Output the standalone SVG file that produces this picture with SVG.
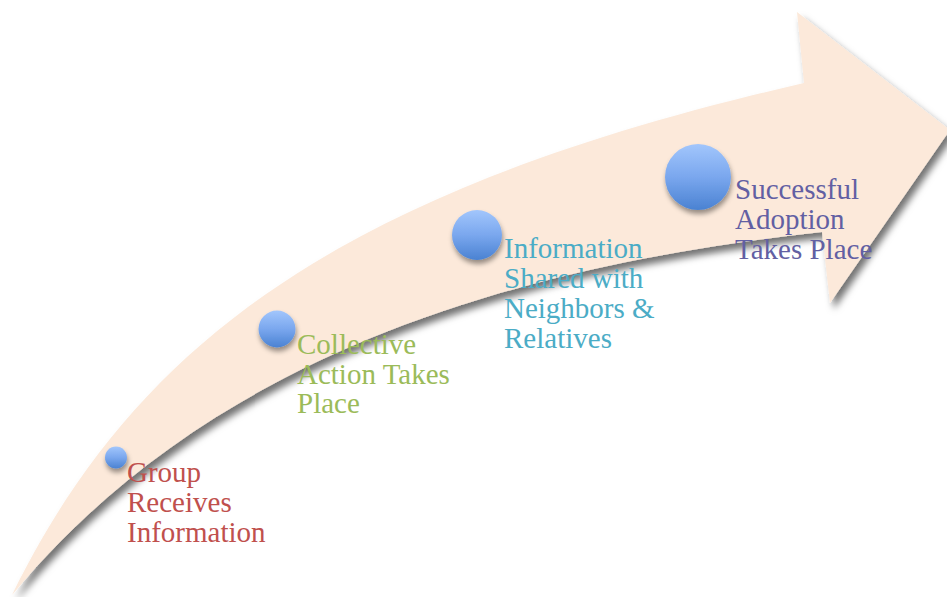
<svg xmlns="http://www.w3.org/2000/svg" width="947" height="597" viewBox="0 0 947 597">
<defs>
<filter id="shadow" x="-10%" y="-10%" width="130%" height="130%">
<feDropShadow dx="4" dy="6" stdDeviation="3.5" flood-color="#000" flood-opacity="0.55"/>
</filter>
<filter id="cshadow" x="-50%" y="-50%" width="200%" height="200%">
<feDropShadow dx="1" dy="4" stdDeviation="2.5" flood-color="#000" flood-opacity="0.4"/>
</filter>
<linearGradient id="ball" x1="0" y1="0" x2="0" y2="1">
<stop offset="0" stop-color="#a2c6fc"/>
<stop offset="0.5" stop-color="#7aa7ee"/>
<stop offset="1" stop-color="#4a82d2"/>
</linearGradient>
<style>
.lbl{font-family:"Liberation Serif","Times New Roman",serif;font-size:29px}
.ball{fill:url(#ball);filter:url(#cshadow)}
</style>
</defs>
<rect width="947" height="597" fill="#ffffff"/>
<g id="arrow">
<path d="M12,595 C143,327 365,184 804,83 L797,12 L950,130 L830,303 L822,232 C441.9,273.5 182.7,389.6 12,595 Z" fill="#fce9da" filter="url(#shadow)"/>
</g>
<g id="connectors"></g>
<g id="node1">
<circle class="ball" cx="116" cy="457.5" r="11"/>
<text class="lbl" fill="#c0504d"><tspan x="127" y="482">Group</tspan><tspan x="127" y="512">Receives</tspan><tspan x="127" y="542">Information</tspan></text>
</g>
<g id="node2">
<circle class="ball" cx="277" cy="329" r="18.5"/>
<text class="lbl" fill="#9bbb59"><tspan x="297" y="354">Collective</tspan><tspan x="297" y="384">Action Takes</tspan><tspan x="297" y="413">Place</tspan></text>
</g>
<g id="node3">
<circle class="ball" cx="477" cy="235" r="25"/>
<text class="lbl" fill="#4bacc6"><tspan x="504" y="258">Information</tspan><tspan x="504" y="288">Shared with</tspan><tspan x="504" y="318">Neighbors &amp;</tspan><tspan x="504" y="348">Relatives</tspan></text>
</g>
<g id="node4">
<circle class="ball" cx="698" cy="177" r="33"/>
<text class="lbl" fill="#625fa3"><tspan x="735" y="199">Successful</tspan><tspan x="735" y="229">Adoption</tspan><tspan x="735" y="259">Takes Place</tspan></text>
</g>
</svg>
